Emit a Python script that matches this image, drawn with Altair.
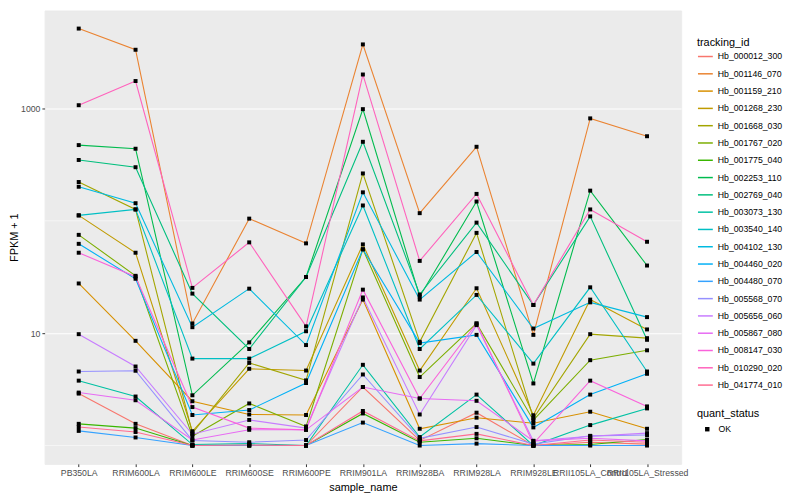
import altair as alt
import pandas as pd

samples = ["PB350LA", "RRIM600LA", "RRIM600LE", "RRIM600SE", "RRIM600PE", "RRIM901LA",
           "RRIM928BA", "RRIM928LA", "RRIM928LE", "RRII105LA_Control", "RRII105LA_Stressed"]

ids = ["Hb_000012_300", "Hb_001146_070", "Hb_001159_210", "Hb_001268_230", "Hb_001668_030",
       "Hb_001767_020", "Hb_001775_040", "Hb_002253_110", "Hb_002769_040", "Hb_003073_130",
       "Hb_003540_140", "Hb_004102_130", "Hb_004460_020", "Hb_004480_070", "Hb_005568_070",
       "Hb_005656_060", "Hb_005867_080", "Hb_008147_030", "Hb_010290_020", "Hb_041774_010"]

colors = ["#F8766D", "#EA8331", "#D89000", "#C09B00", "#A3A500", "#7CAE00", "#39B600", "#00BB4E",
          "#00BF7D", "#00C1A3", "#00BFC4", "#00BAE0", "#00B0F6", "#35A2FF", "#9590FF", "#C77CFF",
          "#E76BF3", "#FA62DB", "#FF62BC", "#FF6C91"]

# FPKM + 1 per sample (order of `samples`)
hb_000012_300 = [2.90, 1.56, 1.00, 1.00, 1.00, 3.32, 1.11, 1.96, 1.00, 1.07, 1.03]
hb_001146_070 = [5140, 3330, 12.2, 104.6, 63.0, 3715, 117, 456, 9.66, 816, 566]
hb_001159_210 = [27.7, 8.55, 2.48, 1.89, 1.87, 19.9, 1.41, 1.77, 1.58, 2.00, 1.41]
hb_001268_230 = [111.8, 52.0, 1.34, 4.82, 4.65, 61.7, 4.65, 25.1, 1.86, 19.9, 10.8]
hb_001668_030 = [221.5, 126.3, 1.29, 5.44, 3.80, 264, 8.38, 78.1, 1.75, 9.80, 9.03]
hb_001767_020 = [75.0, 32.4, 1.21, 2.37, 1.48, 55.8, 4.07, 12.2, 1.68, 5.75, 7.04]
hb_001775_040 = [1.56, 1.43, 1.00, 1.00, 1.00, 1.93, 1.07, 1.16, 1.00, 1.02, 1.13]
hb_002253_110 = [472, 438, 2.80, 8.28, 31.6, 986, 21.2, 148.5, 3.57, 185.6, 40.0]
hb_002769_040 = [348, 300, 22.5, 7.23, 31.6, 505, 22.1, 96.4, 17.8, 109.5, 8.73]
hb_003073_130 = [3.78, 2.73, 1.02, 1.04, 1.00, 5.23, 1.19, 2.84, 1.00, 1.52, 2.14]
hb_003540_140 = [111.8, 126.3, 5.94, 5.94, 10.4, 137, 7.23, 21.9, 5.36, 25.6, 4.56]
hb_004102_130 = [201, 143.5, 11.3, 24.9, 7.84, 179.3, 19.9, 52.8, 11.0, 18.8, 13.9]
hb_004460_020 = [62.4, 30.5, 1.87, 2.07, 3.60, 55.8, 8.16, 9.66, 1.45, 2.84, 4.35]
hb_004480_070 = [1.35, 1.18, 1.00, 1.00, 1.00, 1.60, 1.00, 1.04, 1.00, 1.00, 1.00]
hb_005568_070 = [4.56, 4.63, 1.11, 1.07, 1.12, 4.29, 1.16, 1.46, 1.03, 1.22, 1.24]
hb_005656_060 = [9.80, 5.05, 1.26, 1.69, 1.43, 20.8, 1.89, 11.8, 1.10, 1.21, 1.29]
hb_005867_080 = [2.96, 2.53, 1.12, 1.38, 1.38, 3.32, 2.62, 2.50, 1.10, 1.16, 1.10]
hb_008147_030 = [52.0, 31.8, 2.20, 1.43, 1.38, 24.4, 2.62, 12.2, 1.04, 3.78, 2.23]
hb_010290_020 = [1069, 1754, 25.3, 64.3, 11.5, 2005, 44.0, 173.6, 17.8, 126.3, 65.1]
hb_041774_010 = [1.46, 1.32, 1.00, 1.01, 1.00, 2.03, 1.10, 1.27, 1.00, 1.12, 1.07]

series = [hb_000012_300, hb_001146_070, hb_001159_210, hb_001268_230, hb_001668_030,
          hb_001767_020, hb_001775_040, hb_002253_110, hb_002769_040, hb_003073_130,
          hb_003540_140, hb_004102_130, hb_004460_020, hb_004480_070, hb_005568_070,
          hb_005656_060, hb_005867_080, hb_008147_030, hb_010290_020, hb_041774_010]

y_major = [10, 1000]
y_minor = [1, 100]

rows = []
for tid, vals in zip(ids, series):
    for i, (s, v) in enumerate(zip(samples, vals)):
        rows.append({"tracking_id": tid, "sample_name": s, "sample_idx": i,
                     "fpkm1": v, "quant_status": "OK"})
df = pd.DataFrame(rows)

FONT = "Liberation Sans"

x_enc = alt.X("sample_name:N", sort=samples, title="sample_name",
              scale=alt.Scale(type="point", padding=0.6),
              axis=alt.Axis(labelAngle=0, labelOverlap=False, labelBound=False, labelPadding=2,
                            titlePadding=4, tickSize=2.75))
y_enc = alt.Y("fpkm1:Q", title="FPKM + 1",
              scale=alt.Scale(type="log", domain=[0.687, 7447], nice=False),
              axis=alt.Axis(values=y_major, format="d", tickSize=2.75, labelPadding=2,
                            titlePadding=1.5))

minor = alt.Chart(pd.DataFrame({"fpkm1": y_minor})).mark_rule(
    color="white", strokeWidth=0.55).encode(y=y_enc)

lines = alt.Chart(df).mark_line(strokeWidth=1.1).encode(
    x=x_enc, y=y_enc,
    color=alt.Color("tracking_id:N", scale=alt.Scale(domain=ids, range=colors),
                    legend=alt.Legend(title="tracking_id", orient="none", legendX=659, legendY=27,
                                      symbolType="stroke", symbolSize=225, symbolStrokeWidth=1.5,
                                      titlePadding=0, labelOffset=4, rowPadding=3.47)),
    order=alt.Order("sample_idx:Q")
)

points = alt.Chart(df).mark_point(filled=True, shape="square", size=16, color="black", opacity=1).encode(
    x=x_enc, y=y_enc,
    shape=alt.Shape("quant_status:N", scale=alt.Scale(domain=["OK"], range=["square"]),
                    legend=alt.Legend(title="quant_status", orient="none", legendX=659, legendY=402,
                                      symbolSize=20, symbolFillColor="black", symbolStrokeColor="black",
                                      symbolOffset=6, titlePadding=5.6, labelOffset=7))
)

chart = alt.layer(minor, lines, points).properties(
    width=643, height=458,
    autosize=alt.AutoSizeParams(type="none"),
    padding={"left": 37, "top": 0, "right": 112, "bottom": 34},
    background="white"
).configure_view(fill="#EBEBEB", stroke="#EBEBEB").configure_axis(
    domain=False, tickColor="#333333", labelColor="#4D4D4D", labelFontSize=8.8,
    labelFont=FONT, titleFont=FONT, titleFontSize=11, titleFontWeight="normal",
    titleColor="black", gridColor="white", gridWidth=1.07
).configure_legend(
    titleFont=FONT, labelFont=FONT, titleFontSize=11, titleFontWeight="normal",
    labelFontSize=8.8, labelColor="black", titleColor="black"
)

chart.save("out.html", embed_options={"renderer": "svg", "actions": False})
